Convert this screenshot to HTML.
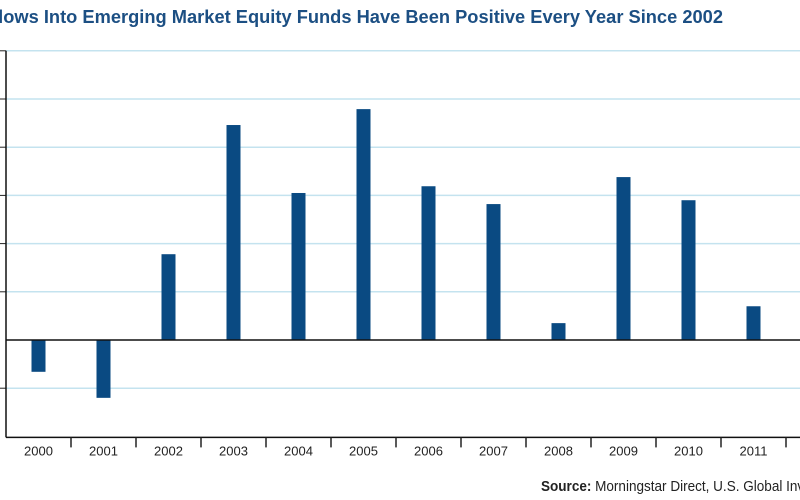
<!DOCTYPE html>
<html><head><meta charset="utf-8"><style>
html,body{margin:0;padding:0;background:#fff;width:800px;height:500px;overflow:hidden}
svg{display:block}
text{font-family:"Liberation Sans",sans-serif}
</style></head><body>
<svg id="chart" width="800" height="500">
<text x="-13" y="23" font-size="18" font-weight="bold" fill="#1c4f83" textLength="736" lengthAdjust="spacingAndGlyphs">Flows Into Emerging Market Equity Funds Have Been Positive Every Year Since 2002</text>
<g id="grid"></g><g id="bars"></g><g id="axes"></g>
<text x="541" y="491" font-size="15" fill="#222" textLength="300" lengthAdjust="spacingAndGlyphs"><tspan font-weight="bold">Source:</tspan> Morningstar Direct, U.S. Global Investors</text>
</svg>
<script>
const categories=["2000","2001","2002","2003","2004","2005","2006","2007","2008","2009","2010","2011","2012"];
const values=[-0.66,-1.2,1.78,4.46,3.05,4.79,3.19,2.82,0.35,3.38,2.9,0.7,null];
const yTicks=[-2,-1,0,1,2,3,4,5,6];
const NS="http://www.w3.org/2000/svg";
const x0=6,band=65,zeroY=340,unit=48.2;
const yS=v=>zeroY-v*unit;
const xS=i=>x0+i*band;
function mk(t,a,p){const e=document.createElementNS(NS,t);for(const k in a)e.setAttribute(k,a[k]);p.appendChild(e);return e;}
const grid=document.getElementById('grid'),bars=document.getElementById('bars'),axes=document.getElementById('axes');
yTicks.forEach(v=>{
  if(v===0||v===-2)return;
  const l=mk('line',{x1:x0,x2:800,y1:yS(v),y2:yS(v),stroke:'#c4e3ef','stroke-width':1.5},grid);
  
  
  const t=mk('line',{x1:0,x2:x0,y1:yS(v),y2:yS(v),stroke:'#222','stroke-width':1},axes);
  
  
});
values.forEach((v,i)=>{
  if(v===null)return;
  const y=Math.min(yS(v),zeroY),h=Math.abs(yS(v)-zeroY);
  const r=mk('rect',{x:xS(i)+band/2-7,y:y,width:14,height:h,fill:'#0a4a82'},bars);
  
  
});
const za=mk('line',{x1:x0,x2:800,y1:zeroY,y2:zeroY,stroke:'#111','stroke-width':1.5},axes);


const by=yS(-2)+1;
const ba=mk('line',{x1:x0,x2:800,y1:by,y2:by,stroke:'#111','stroke-width':1.5},axes);


const ya=mk('line',{x1:x0,x2:x0,y1:yS(6),y2:by,stroke:'#111','stroke-width':1.5},axes);


categories.forEach((c,i)=>{
  const tk=mk('line',{x1:xS(i+1),x2:xS(i+1),y1:by,y2:by+10,stroke:'#222','stroke-width':1.5},axes);
  
  
  const t=mk('text',{x:xS(i)+band/2,y:by+18,'font-size':13,'text-anchor':'middle',fill:'#222'},axes);
  t.textContent=c;
  
  
});
</script>
</body></html>
